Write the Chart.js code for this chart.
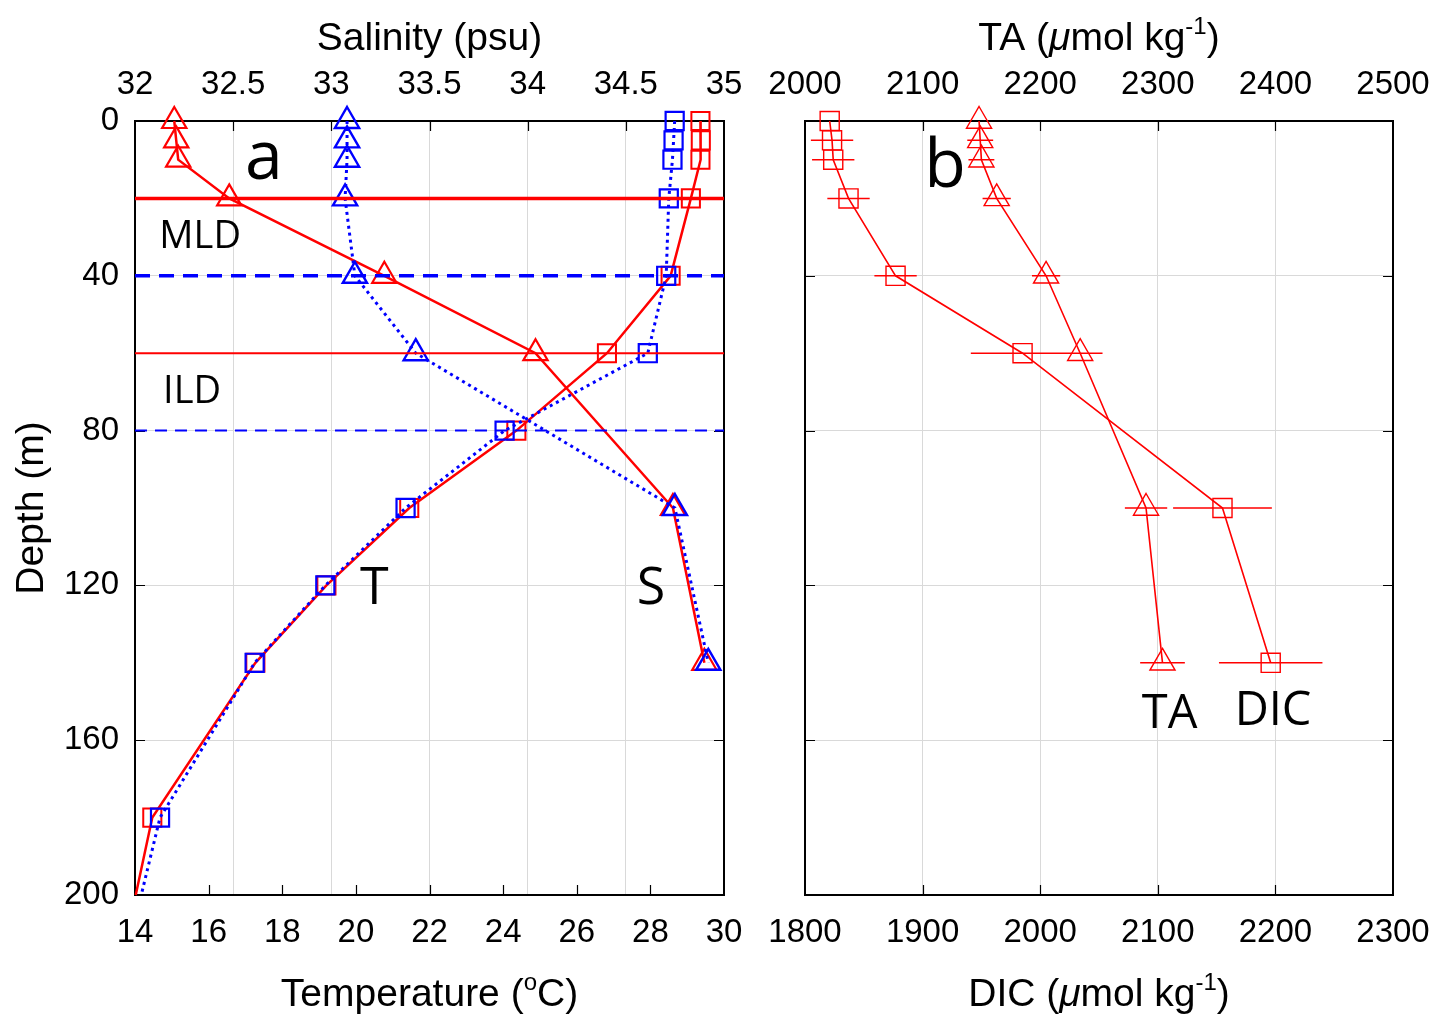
<!DOCTYPE html>
<html lang="en">
<head>
<meta charset="UTF-8">
<title>Temperature, salinity and carbonate profiles</title>
<script src="https://cdn.jsdelivr.net/npm/chart.js@4.4.0/dist/chart.umd.min.js"></script>
<style>
  html, body { margin: 0; padding: 0; background: #fff; }
  .wrap { position: relative; width: 1449px; height: 1014px; }
  .wrap canvas { position: absolute; left: 0; top: 0; }
</style>
</head>
<body>
<div class="wrap">
  <canvas id="profileChart" width="1449" height="1014"></canvas>
  <canvas id="carbonChart" width="1449" height="1014"></canvas>
</div>
<script>
// ---- panel a: temperature / salinity ----
const depthT  = [0, 5, 10, 20, 40, 60, 80, 100, 120, 140, 180, 200];
const tempRed  = [29.36, 29.37, 29.36, 29.1, 28.55, 26.82, 24.36, 21.45, 19.2, 17.27, 14.47, 14.02];
const tempBlue = [28.66, 28.63, 28.6, 28.5, 28.43, 27.93, 24.04, 21.35, 19.17, 17.25, 14.68, 14.17];

const depthS  = [0, 5, 10, 20, 40, 60, 100, 140];
const salRed  = [32.2, 32.21, 32.22, 32.48, 33.27, 34.04, 34.74, 34.9];
const salBlue = [33.08, 33.08, 33.08, 33.07, 33.12, 33.43, 34.75, 34.92];

// mixed layer / isothermal layer depths: [red, blue]
const mldDepth = [20, 40];
const ildDepth = [60, 80];

// ---- panel b: DIC / TA ----
const depthC = [0, 5, 10, 20, 40, 60, 100, 140];
const dic    = [1821, 1823, 1824, 1837, 1877, 1985, 2155, 2196];
const dicErr = [18, 18, 18, 18, 18, 44, 42, 44];
const ta     = [2148, 2149, 2150, 2163, 2205, 2234, 2290, 2304];
const taErr  = [11, 11, 11, 12, 12, 19, 18, 19];

// axis ticks
const tempTicks  = [14, 16, 18, 20, 22, 24, 26, 28, 30];
const salTicks   = [32, 32.5, 33, 33.5, 34, 34.5, 35];
const depthTicks = [0, 40, 80, 120, 160, 200];
const dicTicks   = [1800, 1900, 2000, 2100, 2200, 2300];
const taTicks    = [2000, 2100, 2200, 2300, 2400, 2500];

const AXIS_FONT = '"Liberation Sans", Arial, sans-serif';
const NOTE_FONT = '"Open Sans", "Noto Sans", sans-serif';
const RED = '#ff0000';
const BLUE = '#0000ff';
const GRID = '#d9d9d9';
const W = 1449, H = 1014;
const TITLE_SIZE = 39;

const tickFont = { family: AXIS_FONT, size: 33, lineHeight: 1.2 };

function pointsOf(xs, ys) {
  return xs.map((x, i) => ({ x: x, y: ys[i] }));
}

function useTicks(values) {
  return scale => { scale.ticks = values.map(v => ({ value: v })); };
}

// draw a title made of runs (plain / superscript / italic), centred on cx, baseline cy
function drawRuns(ctx, runs, cx, cy, size, rotate) {
  const fontFor = r => (r.italic ? 'italic ' : '') + Math.round(r.sup ? size * 0.62 : size) + 'px ' + AXIS_FONT;
  let total = 0;
  runs.forEach(r => { ctx.font = fontFor(r); r.w = ctx.measureText(r.t).width; total += r.w; });
  ctx.save();
  ctx.translate(cx, cy);
  if (rotate) ctx.rotate(-Math.PI / 2);
  ctx.fillStyle = '#000';
  ctx.textAlign = 'left';
  ctx.textBaseline = 'alphabetic';
  let x = -total / 2;
  runs.forEach(r => {
    ctx.font = fontFor(r);
    ctx.fillText(r.t, x, r.sup ? -size * 0.42 : 0);
    x += r.w;
  });
  ctx.restore();
}

// box, inward tick marks, titles and in-plot labels
function panelDecor(cfg) {
  return {
    id: 'panelDecor',
    beforeDatasetsDraw(chart) {
      const { ctx, chartArea: a, scales } = chart;
      const len = 10;
      ctx.save();
      ctx.strokeStyle = '#000';
      ctx.lineWidth = 1.2;
      ctx.beginPath();
      const inner = (s, v) => v > s.min && v < s.max;
      scales.x.ticks.forEach(t => {
        if (!inner(scales.x, t.value)) return;
        const px = Math.round(scales.x.getPixelForValue(t.value)) + 0.5;
        ctx.moveTo(px, a.bottom); ctx.lineTo(px, a.bottom - len);
      });
      scales.x2.ticks.forEach(t => {
        if (!inner(scales.x2, t.value)) return;
        const px = Math.round(scales.x2.getPixelForValue(t.value)) + 0.5;
        ctx.moveTo(px, a.top); ctx.lineTo(px, a.top + len);
      });
      scales.y.ticks.forEach(t => {
        if (!inner(scales.y, t.value)) return;
        const py = Math.round(scales.y.getPixelForValue(t.value)) + 0.5;
        ctx.moveTo(a.left, py); ctx.lineTo(a.left + len, py);
        ctx.moveTo(a.right, py); ctx.lineTo(a.right - len, py);
      });
      ctx.stroke();
      ctx.lineWidth = 2;
      ctx.strokeRect(a.left, a.top, a.width, a.height);
      ctx.restore();
    },
    afterDraw(chart) {
      const { ctx, chartArea: a, scales } = chart;
      const cx = (a.left + a.right) / 2;
      drawRuns(ctx, cfg.top, cx, 50, TITLE_SIZE);
      drawRuns(ctx, cfg.bottom, cx, 1006, TITLE_SIZE);
      if (cfg.left) drawRuns(ctx, cfg.left, 43, (a.top + a.bottom) / 2, TITLE_SIZE, true);
      ctx.save();
      ctx.fillStyle = '#000';
      ctx.textAlign = 'center';
      ctx.textBaseline = 'middle';
      cfg.notes.forEach(n => {
        ctx.font = n.size + 'px ' + NOTE_FONT;
        ctx.fillText(n.text, scales.x.getPixelForValue(n.x), scales.y.getPixelForValue(n.y));
      });
      ctx.restore();
    }
  };
}

// horizontal error bars on DIC and TA
const errorBars = {
  id: 'errorBars',
  beforeDatasetsDraw(chart) {
    const { ctx, scales } = chart;
    ctx.save();
    ctx.strokeStyle = RED;
    ctx.lineWidth = 1.5;
    ctx.beginPath();
    depthC.forEach((d, i) => {
      const py = scales.y.getPixelForValue(d);
      ctx.moveTo(scales.x.getPixelForValue(dic[i] - dicErr[i]), py);
      ctx.lineTo(scales.x.getPixelForValue(dic[i] + dicErr[i]), py);
      ctx.moveTo(scales.x2.getPixelForValue(ta[i] - taErr[i]), py);
      ctx.lineTo(scales.x2.getPixelForValue(ta[i] + taErr[i]), py);
    });
    ctx.stroke();
    ctx.restore();
  }
};

function axes(xTicks, x2Ticks, leftWidth, showDepthLabels, gridOnTop) {
  return {
    x: {
      type: 'linear', position: 'bottom',
      min: xTicks[0], max: xTicks[xTicks.length - 1],
      afterBuildTicks: useTicks(xTicks),
      ticks: { font: tickFont, color: '#000', padding: 18.5, maxRotation: 0, autoSkip: false, callback: v => String(v) },
      grid: { display: !gridOnTop, color: GRID, lineWidth: 1, drawTicks: false },
      border: { display: false },
      afterFit: s => { s.height = H - 895; }
    },
    x2: {
      type: 'linear', position: 'top',
      min: x2Ticks[0], max: x2Ticks[x2Ticks.length - 1],
      afterBuildTicks: useTicks(x2Ticks),
      ticks: { font: tickFont, color: '#000', padding: 16, maxRotation: 0, autoSkip: false, callback: v => String(v) },
      grid: { display: gridOnTop, color: GRID, lineWidth: 1, drawTicks: false },
      border: { display: false },
      afterFit: s => { s.height = 121; }
    },
    y: {
      type: 'linear', position: 'left', reverse: true,
      min: depthTicks[0], max: depthTicks[depthTicks.length - 1],
      afterBuildTicks: useTicks(depthTicks),
      ticks: { display: showDepthLabels, font: tickFont, color: '#000', padding: 16, callback: v => String(v) },
      grid: { color: GRID, lineWidth: 1, drawTicks: false },
      border: { display: false },
      afterFit: s => { s.width = leftWidth; }
    }
  };
}

const markerSize = ctx => (ctx.raw && ctx.raw.y >= 200 ? 0 : 12.8);

// ---------- panel a ----------
new Chart(document.getElementById('profileChart'), {
  type: 'scatter',
  data: {
    datasets: [
      { data: pointsOf([tempTicks[0], tempTicks[8]], [mldDepth[0], mldDepth[0]]), xAxisID: 'x',
        showLine: true, borderColor: RED, borderWidth: 3.5, pointRadius: 0, order: 0 },
      { data: pointsOf([tempTicks[0], tempTicks[8]], [ildDepth[0], ildDepth[0]]), xAxisID: 'x',
        showLine: true, borderColor: RED, borderWidth: 2, pointRadius: 0, order: 0 },
      { data: pointsOf([tempTicks[0], tempTicks[8]], [mldDepth[1], mldDepth[1]]), xAxisID: 'x',
        showLine: true, borderColor: BLUE, borderWidth: 3.5, borderDash: [15, 9], pointRadius: 0, order: 0 },
      { data: pointsOf([tempTicks[0], tempTicks[8]], [ildDepth[1], ildDepth[1]]), xAxisID: 'x',
        showLine: true, borderColor: BLUE, borderWidth: 2, borderDash: [12, 8], pointRadius: 0, order: 0 },

      { data: pointsOf(tempBlue, depthT), xAxisID: 'x', showLine: true,
        borderColor: BLUE, borderWidth: 3, borderDash: [3, 4],
        pointStyle: 'rect', pointRadius: markerSize, pointBorderWidth: 2.2,
        pointBorderColor: BLUE, pointBackgroundColor: 'rgba(0,0,0,0)', clip: false, order: 1 },
      { data: pointsOf(salBlue, depthS), xAxisID: 'x2', showLine: true,
        borderColor: BLUE, borderWidth: 3, borderDash: [3, 4],
        pointStyle: 'triangle', pointRadius: 14, pointBorderWidth: 2.4,
        pointBorderColor: BLUE, pointBackgroundColor: 'rgba(0,0,0,0)', clip: false, order: 1 },
      { data: pointsOf(tempRed, depthT), xAxisID: 'x', showLine: true,
        borderColor: RED, borderWidth: 2.5,
        pointStyle: 'rect', pointRadius: markerSize, pointBorderWidth: 2,
        pointBorderColor: RED, pointBackgroundColor: 'rgba(0,0,0,0)', clip: false, order: 2 },
      { data: pointsOf(salRed, depthS), xAxisID: 'x2', showLine: true,
        borderColor: RED, borderWidth: 2.5,
        pointStyle: 'triangle', pointRadius: 14, pointBorderWidth: 2.2,
        pointBorderColor: RED, pointBackgroundColor: 'rgba(0,0,0,0)', clip: false, order: 2 }
    ]
  },
  options: {
    responsive: false,
    animation: false,
    devicePixelRatio: 1,
    layout: { padding: { left: 0, top: 0, bottom: 0, right: W - 724 } },
    plugins: { legend: { display: false }, tooltip: { enabled: false } },
    elements: { line: { tension: 0 } },
    scales: axes(tempTicks, salTicks, 135, true, true)
  },
  plugins: [panelDecor({
    top: [{ t: 'Salinity (psu)' }],
    bottom: [{ t: 'Temperature (' }, { t: 'o', sup: true }, { t: 'C)' }],
    left: [{ t: 'Depth (m)' }],
    notes: [
      { text: 'a', x: 17.5, y: 10, size: 68 },
      { text: 'MLD', x: 15.77, y: 30, size: 38 },
      { text: 'ILD', x: 15.55, y: 70, size: 38 },
      { text: 'T', x: 20.5, y: 121, size: 52 },
      { text: 'S', x: 28.02, y: 121, size: 52 }
    ]
  })]
});

// ---------- panel b ----------
new Chart(document.getElementById('carbonChart'), {
  type: 'scatter',
  data: {
    datasets: [
      { data: pointsOf(ta, depthC), xAxisID: 'x2', showLine: true,
        borderColor: RED, borderWidth: 1.6,
        pointStyle: 'triangle', pointRadius: 14.5, pointBorderWidth: 1.4,
        pointBorderColor: RED, pointBackgroundColor: 'rgba(0,0,0,0)', clip: false },
      { data: pointsOf(dic, depthC), xAxisID: 'x', showLine: true,
        borderColor: RED, borderWidth: 1.6,
        pointStyle: 'rect', pointRadius: 13.5, pointBorderWidth: 1.4,
        pointBorderColor: RED, pointBackgroundColor: 'rgba(0,0,0,0)', clip: false }
    ]
  },
  options: {
    responsive: false,
    animation: false,
    devicePixelRatio: 1,
    layout: { padding: { left: 0, top: 0, bottom: 0, right: W - 1393 } },
    plugins: { legend: { display: false }, tooltip: { enabled: false } },
    elements: { line: { tension: 0 } },
    scales: axes(dicTicks, taTicks, 805, false, false)
  },
  plugins: [errorBars, panelDecor({
    top: [{ t: 'TA (' }, { t: 'μ', italic: true }, { t: 'mol kg' }, { t: '-1', sup: true }, { t: ')' }],
    bottom: [{ t: 'DIC (' }, { t: 'μ', italic: true }, { t: 'mol kg' }, { t: '-1', sup: true }, { t: ')' }],
    notes: [
      { text: 'b', x: 1919, y: 12, size: 68 },
      { text: 'TA', x: 2110, y: 153.5, size: 47 },
      { text: 'DIC', x: 2198, y: 152.7, size: 47 }
    ]
  })]
});
</script>
</body>
</html>
